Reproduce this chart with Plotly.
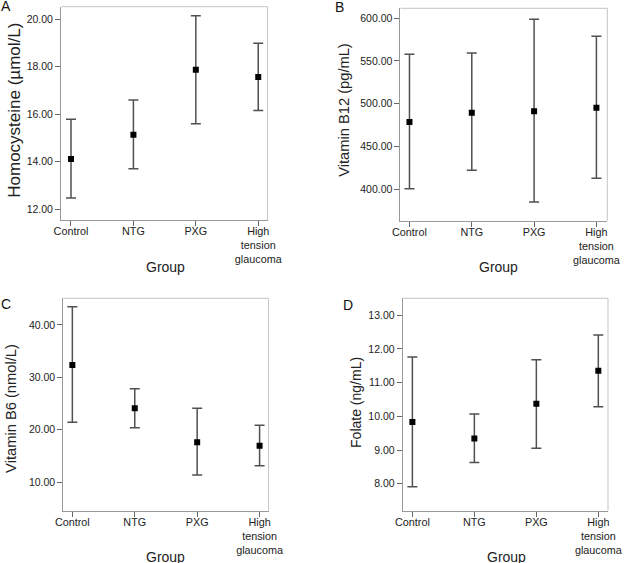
import plotly.graph_objects as go

groups = ["Control", "NTG", "PXG", "High<br>tension<br>glaucoma"]

hcy_mean = [14.12, 15.14, 17.87, 17.56]
hcy_upper = [15.79, 16.60, 20.14, 18.98]
hcy_lower = [12.48, 13.70, 15.60, 16.16]

b12_mean = [478.5, 489.4, 491.0, 495.2]
b12_upper = [557.8, 559.3, 598.8, 578.9]
b12_lower = [400.3, 421.9, 384.7, 412.6]

b6_mean = [32.36, 24.08, 17.58, 16.94]
b6_upper = [43.5, 27.83, 24.08, 20.83]
b6_lower = [21.4, 20.38, 11.34, 13.12]

fol_mean = [9.83, 9.34, 10.37, 11.35]
fol_upper = [11.76, 10.07, 11.68, 12.41]
fol_lower = [7.91, 8.63, 9.05, 10.28]

W, H = 630, 563
def px(x): return x / W
def py(y): return 1 - y / H

panels = [
    dict(mean=hcy_mean, up=hcy_upper, lo=hcy_lower, title="Homocysteine (µmol/L)", tsize=17,
         box=(55, 269, 6.7, 220), xr=[-0.159, 3.15], yr=[11.55, 20.52], tv=[12, 14, 16, 18, 20],
         ttl=(7, 110), grp=(163.7, 267), lab="A", labpos=(5, 6)),
    dict(mean=b12_mean, up=b12_upper, lo=b12_lower, title="Vitamin B12 (pg/mL)", tsize=14.7,
         box=(406.7, 621, 8.3, 220.7), xr=[-0.144, 3.175], yr=[362.9, 611.7], tv=[400, 450, 500, 550, 600],
         ttl=(348, 110), grp=(508.3, 267), lab="B", labpos=(350, 7)),
    dict(mean=b6_mean, up=b6_upper, lo=b6_lower, title="Vitamin B6 (nmol/L)", tsize=14.7,
         box=(57.3, 270, 298.3, 510.7), xr=[-0.145, 3.144], yr=[4.52, 45.1], tv=[10, 20, 30, 40],
         ttl=(3, 408), grp=(163.7, 556.7), lab="C", labpos=(5, 304)),
    dict(mean=fol_mean, up=fol_upper, lo=fol_lower, title="Folate (ng/mL)", tsize=14,
         box=(409, 621.7, 298.3, 510.7), xr=[-0.156, 3.156], yr=[7.2, 13.5], tv=[8, 9, 10, 11, 12, 13],
         ttl=(360, 402.5), grp=(517, 556.7), lab="D", labpos=(360, 305)),
]

fig = go.Figure()
annotations = []
shapes = []
font_family = "Liberation Sans, Arial, sans-serif"

for i, p in enumerate(panels, start=1):
    xa = "x" if i == 1 else f"x{i}"
    ya = "y" if i == 1 else f"y{i}"
    err_plus = [u - m for u, m in zip(p["up"], p["mean"])]
    err_minus = [m - l for m, l in zip(p["mean"], p["lo"])]
    fig.add_trace(go.Scatter(
        x=list(range(len(groups))), y=p["mean"], mode="markers",
        marker=dict(symbol="square", size=6, color="black"),
        error_y=dict(type="data", array=err_plus, arrayminus=err_minus,
                     color="#505050", thickness=1.5, width=5),
        xaxis=xa, yaxis=ya, showlegend=False,
    ))
    x0, x1, y0, y1 = p["box"]
    axkw_x = dict(domain=[px(x0), px(x1)], range=p["xr"], tickvals=list(range(len(groups))),
                  ticktext=groups, ticks="outside", ticklen=5, tickcolor="#666",
                  ticklabelstandoff=-4,
                  showline=True, linecolor="#999", linewidth=1, showgrid=False, zeroline=False,
                  tickfont=dict(family=font_family, size=10.8, color="#222"),
                  anchor=ya, fixedrange=True)
    axkw_y = dict(domain=[py(y1), py(y0)], range=p["yr"], tickvals=p["tv"], tickformat=".2f",
                  ticks="outside", ticklen=5, tickcolor="#666",
                  showline=True, linecolor="#999", linewidth=1, showgrid=False, zeroline=False,
                  tickfont=dict(family=font_family, size=10.5, color="#222"),
                  anchor=xa, fixedrange=True)
    fig.update_layout(**{("xaxis" if i == 1 else f"xaxis{i}"): axkw_x,
                         ("yaxis" if i == 1 else f"yaxis{i}"): axkw_y})
    shapes.append(dict(type="line", xref="paper", yref="paper", x0=px(x0), x1=px(x1), y0=py(y0), y1=py(y0),
                       line=dict(color="#c4c4c4", width=1)))
    shapes.append(dict(type="line", xref="paper", yref="paper", x0=px(x1), x1=px(x1), y0=py(y0), y1=py(y1),
                       line=dict(color="#c4c4c4", width=1)))
    annotations.append(dict(text=p["title"], xref="paper", yref="paper", x=px(p["ttl"][0]), y=py(p["ttl"][1]),
                            xanchor="center", yanchor="middle", textangle=-90, showarrow=False,
                            font=dict(family=font_family, size=p["tsize"], color="#222")))
    annotations.append(dict(text="Group", xref="paper", yref="paper", x=px(p["grp"][0]), y=py(p["grp"][1]),
                            xanchor="center", yanchor="middle", showarrow=False,
                            font=dict(family=font_family, size=14, color="#222")))
    annotations.append(dict(text=p["lab"], xref="paper", yref="paper", x=px(p["labpos"][0]), y=py(p["labpos"][1]),
                            xanchor="right", yanchor="middle", showarrow=False,
                            font=dict(family=font_family, size=14, color="#111")))

fig.update_layout(width=W, height=H, margin=dict(l=0, r=0, t=0, b=0),
                  paper_bgcolor="white", plot_bgcolor="white",
                  annotations=annotations, shapes=shapes)

fig.write_html("out.html")
